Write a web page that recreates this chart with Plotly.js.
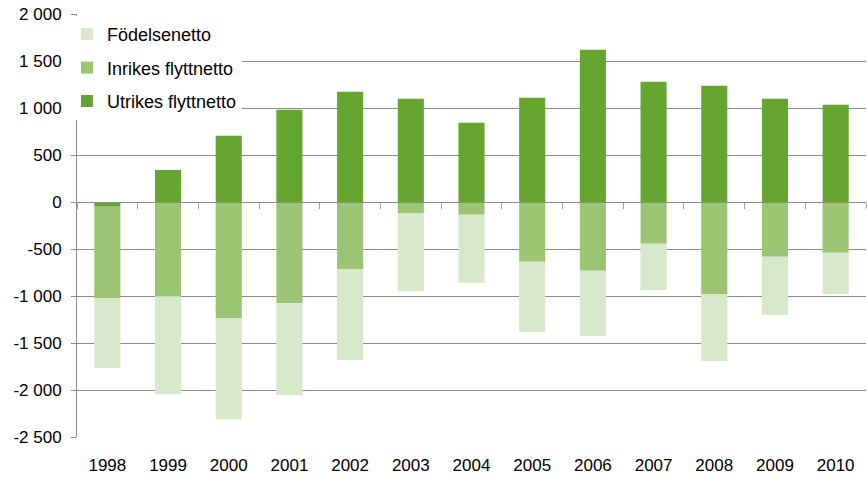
<!DOCTYPE html>
<html>
<head>
<meta charset="utf-8">
<script src="https://cdn.plot.ly/plotly-3.0.1.min.js"></script>
<style>html,body{margin:0;padding:0;background:#fff;}#chart{width:867px;height:478px;}</style>
</head>
<body>
<div id="chart"></div>
<script>
const years = ['1998','1999','2000','2001','2002','2003','2004','2005','2006','2007','2008','2009','2010'];
const utrikes = [-50, 341, 704, 981, 1173, 1098, 842, 1109, 1620, 1279, 1237, 1098, 1034];
const inrikes = [-973, -1002, -1237, -1077, -714, -117, -135, -636, -732, -445, -978, -583, -541];
const fodelse = [-744, -1042, -1073, -977, -967, -832, -725, -747, -693, -490, -714, -618, -437];
const yTickVals = [2000, 1500, 1000, 500, 0, -500, -1000, -1500, -2000, -2500];
const yTickText = ['2 000', '1 500', '1 000', '500', '0', '-500', '-1 000', '-1 500', '-2 000', '-2 500'];

const FONT = 'Liberation Sans, Arial, sans-serif';
const GRID = '#8c8c8c';

const traces = [
  {type:'bar', name:'Utrikes flyttnetto', x:years, y:utrikes, marker:{color:'#64a630'}, legendgroup:'u', legendrank:3, hoverinfo:'skip'},
  {type:'bar', name:'Inrikes flyttnetto', x:years, y:inrikes, marker:{color:'#9bc473'}, legendgroup:'i', legendrank:2, hoverinfo:'skip'},
  {type:'bar', name:'Födelsenetto', x:years, y:fodelse, marker:{color:'#d8e8cb'}, legendgroup:'f', legendrank:1, hoverinfo:'skip'},
  {type:'scatter', mode:'none', x:years, y:years.map(() => null), xaxis:'x2', yaxis:'y', showlegend:false, hoverinfo:'skip'}
];

const layout = {
  width:867, height:478,
  margin:{l:77, r:1, t:14, b:41, autoexpand:false},
  paper_bgcolor:'#fff', plot_bgcolor:'#fff',
  barmode:'relative',
  bargap:0.57,
  font:{family:FONT, size:17, color:'#000'},
  showlegend:true,
  legend:{
    traceorder:'grouped', tracegroupgap:7,
    xref:'paper', yref:'paper',
    x:-10/789, y:(437-16)/423, xanchor:'left', yanchor:'top',
    bgcolor:'#fff', borderwidth:0,
    font:{family:FONT, size:18, color:'#000'}
  },
  xaxis:{
    type:'category', categoryorder:'array', categoryarray:years,
    range:[-0.5, 12.5],
    showline:false, showgrid:false, zeroline:false, ticks:'',
    ticklabelstandoff:16,
    tickfont:{family:FONT, size:17, color:'#000'},
    fixedrange:true
  },
  xaxis2:{
    type:'category', categoryorder:'array', categoryarray:years,
    overlaying:'x', matches:'x', anchor:'free', position:2500/4500,
    showline:true, linecolor:GRID, linewidth:1,
    ticks:'outside', tickson:'boundaries', ticklen:6, tickcolor:'#a0a0a0', tickwidth:1,
    showticklabels:false, showgrid:false, zeroline:false, fixedrange:true
  },
  yaxis:{
    range:[-2500, 2000],
    tickvals:yTickVals, ticktext:yTickText,
    showgrid:true, gridcolor:GRID, gridwidth:1,
    zeroline:false,
    showline:true, linecolor:GRID, linewidth:1,
    ticks:'outside', ticklen:5, tickcolor:GRID, tickwidth:1,
    ticklabelstandoff:6,
    tickfont:{family:FONT, size:17, color:'#000'},
    fixedrange:true
  }
};

Plotly.newPlot('chart', traces, layout, {displayModeBar:false, staticPlot:true});
</script>
</body>
</html>
